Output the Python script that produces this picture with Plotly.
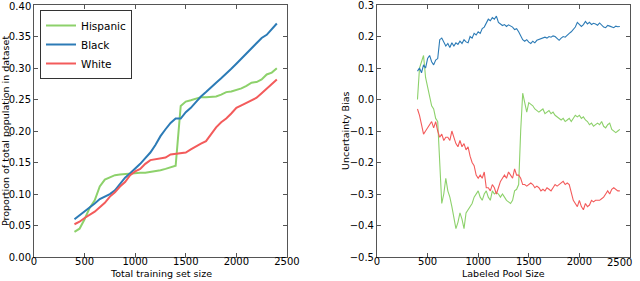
import plotly.graph_objects as go

# ---------------- Left panel data ----------------
left_x = list(range(400, 2401, 50))
left_hispanic = [0.040, 0.045, 0.060, 0.078, 0.090, 0.112, 0.123, 0.127, 0.130, 0.131,
                 0.132, 0.133, 0.133, 0.134, 0.134, 0.135, 0.137, 0.138, 0.140, 0.142,
                 0.145, 0.240, 0.247, 0.249, 0.251, 0.254, 0.254, 0.254, 0.255, 0.258,
                 0.262, 0.263, 0.265, 0.268, 0.272, 0.277, 0.278, 0.282, 0.290, 0.293,
                 0.300]
left_black = [0.060, 0.066, 0.072, 0.078, 0.085, 0.092, 0.096, 0.100, 0.106, 0.116,
              0.126, 0.133, 0.140, 0.148, 0.157, 0.166, 0.178, 0.192, 0.203, 0.213,
              0.220, 0.220, 0.230, 0.237, 0.246, 0.255, 0.262, 0.270, 0.277, 0.284,
              0.291, 0.299, 0.307, 0.315, 0.323, 0.331, 0.339, 0.348, 0.353, 0.362,
              0.371]
left_white = [0.052, 0.056, 0.062, 0.067, 0.072, 0.079, 0.086, 0.096, 0.103, 0.112,
              0.119, 0.130, 0.136, 0.140, 0.148, 0.154, 0.155, 0.156, 0.158, 0.163,
              0.164, 0.164, 0.166, 0.171, 0.176, 0.180, 0.184, 0.195, 0.206, 0.214,
              0.220, 0.228, 0.237, 0.241, 0.245, 0.249, 0.253, 0.260, 0.267, 0.275,
              0.282]

# ---------------- Right panel data ----------------
right_x = list(range(400, 2401, 20))
right_black = [0.09, 0.10, 0.085, 0.11, 0.10, 0.13, 0.14, 0.12, 0.11, 0.125,
               0.13, 0.19, 0.195, 0.18, 0.17, 0.178, 0.165, 0.18, 0.17, 0.18,
               0.175, 0.185, 0.178, 0.19, 0.183, 0.18, 0.20, 0.195, 0.21, 0.205,
               0.215, 0.21, 0.225, 0.23, 0.245, 0.255, 0.25, 0.26, 0.255, 0.265,
               0.245, 0.24, 0.235, 0.238, 0.232, 0.237, 0.233, 0.23, 0.222, 0.225,
               0.215, 0.20, 0.19, 0.185, 0.19, 0.182, 0.178, 0.185, 0.18, 0.188,
               0.19, 0.193, 0.195, 0.198, 0.195, 0.20, 0.198, 0.202, 0.20, 0.195,
               0.188, 0.195, 0.20, 0.198, 0.205, 0.21, 0.215, 0.222, 0.23, 0.245,
               0.24, 0.232, 0.238, 0.248, 0.24, 0.245, 0.238, 0.242, 0.24, 0.236,
               0.243, 0.235, 0.23, 0.228, 0.235, 0.233, 0.23, 0.228, 0.233, 0.231,
               0.232]
right_hispanic = [0.0, 0.10, 0.12, 0.14, 0.07, 0.04, 0.0, -0.02, -0.03, -0.06,
                  -0.07, -0.22, -0.33, -0.30, -0.25, -0.29, -0.31, -0.34, -0.37, -0.41,
                  -0.39, -0.36, -0.38, -0.41, -0.36, -0.35, -0.34, -0.33, -0.31, -0.30,
                  -0.29, -0.31, -0.32, -0.30, -0.29, -0.31, -0.32, -0.29, -0.30, -0.295,
                  -0.30, -0.31, -0.30, -0.31, -0.32, -0.325, -0.33, -0.32, -0.29, -0.285,
                  -0.27, -0.10, 0.02, -0.01, -0.04, -0.01, -0.015, -0.02, -0.03, -0.035,
                  -0.04, -0.035, -0.03, -0.045, -0.04, -0.035, -0.045, -0.04, -0.05, -0.055,
                  -0.06, -0.065, -0.06, -0.07, -0.065, -0.06, -0.07, -0.06, -0.05, -0.055,
                  -0.05, -0.06, -0.055, -0.065, -0.07, -0.08, -0.075, -0.085, -0.08, -0.075,
                  -0.08, -0.07, -0.085, -0.09, -0.08, -0.075, -0.095, -0.10, -0.105, -0.10,
                  -0.095]
right_white = [-0.03, -0.05, -0.08, -0.11, -0.10, -0.09, -0.08, -0.07, -0.09, -0.07,
               -0.10, -0.12, -0.11, -0.13, -0.12, -0.12, -0.13, -0.10, -0.12, -0.14,
               -0.15, -0.13, -0.15, -0.14, -0.16, -0.15, -0.18, -0.20, -0.21, -0.24,
               -0.25, -0.24, -0.25, -0.23, -0.28, -0.28, -0.29, -0.27, -0.28, -0.30,
               -0.28, -0.26, -0.25, -0.24, -0.25, -0.23, -0.24, -0.25, -0.22, -0.24,
               -0.24, -0.25, -0.27, -0.27, -0.275, -0.27, -0.265, -0.27, -0.28, -0.275,
               -0.28, -0.29, -0.285, -0.29, -0.28, -0.285, -0.29, -0.28, -0.27, -0.275,
               -0.27, -0.265, -0.26, -0.27, -0.265, -0.27, -0.30, -0.32, -0.33, -0.34,
               -0.32, -0.34, -0.35, -0.33, -0.34, -0.335, -0.32, -0.325, -0.32, -0.32,
               -0.32, -0.315, -0.31, -0.30, -0.29, -0.30, -0.285, -0.28, -0.285, -0.29,
               -0.29]

series_names = ["Hispanic", "Black", "White"]
colors = {"Hispanic": "#8dd16b", "Black": "#2c7bb6", "White": "#f35b5b"}

# tick values and labels (edge labels are drawn as text annotations so they are not clipped)
x_ticks = [0, 500, 1000, 1500, 2000, 2500]
x_labels_left = ["0", "500", "1000", "1500", "2000", "2500"]
x_labels_right = ["0", "500", "1000", "1500", "2000", ""]
left_y_ticks = [0.00, 0.05, 0.10, 0.15, 0.20, 0.25, 0.30, 0.35, 0.40]
left_y_labels = ["0.00", "0.05", "0.10", "0.15", "0.20", "0.25", "0.30", "0.35", "0.40"]
right_y_ticks = [-0.5, -0.4, -0.3, -0.2, -0.1, 0.0, 0.1, 0.2, 0.3]
right_y_labels = ["\u22120.5", "\u22120.4", "\u22120.3", "\u22120.2", "\u22120.1", "0.0", "0.1", "0.2", "0.3"]

fig = go.Figure()
for name, ys in zip(series_names, [left_hispanic, left_black, left_white]):
    fig.add_trace(go.Scatter(x=left_x, y=ys, mode="lines", name=name,
                             line=dict(color=colors[name], width=2),
                             xaxis="x", yaxis="y"))
for name, ys in zip(series_names, [right_hispanic, right_black, right_white]):
    fig.add_trace(go.Scatter(x=right_x, y=ys, mode="lines", name=name,
                             showlegend=False,
                             line=dict(color=colors[name], width=1.1),
                             xaxis="x2", yaxis="y2"))

font = dict(family="DejaVu Sans", size=10, color="#000")
title_font = dict(family="DejaVu Sans", size=9.5, color="#000")
axis_common = dict(showgrid=False, zeroline=False, showline=True, mirror="ticks",
                   linecolor="#555", linewidth=1, ticks="inside", ticklen=4,
                   tickcolor="#555", tickfont=font, automargin=False,
                   ticklabeloverflow="allow")

fig.update_layout(
    width=640, height=281,
    margin=dict(l=0, r=0, t=0, b=0, autoexpand=False),
    paper_bgcolor="white", plot_bgcolor="white",
    font=font,
    xaxis=dict(domain=[34/640, 287/640], range=[0, 2500.5], tickvals=x_ticks,
               ticktext=x_labels_left,
               ticklabelstandoff=-5, anchor="y", **axis_common),
    yaxis=dict(domain=[1-257/281, 1-5/281], range=[0, 0.4004],
               tickvals=left_y_ticks[:-1], ticktext=left_y_labels[:-1],
               anchor="x", **axis_common),
    xaxis2=dict(domain=[377/640, 630/640], range=[0, 2500.5], tickvals=x_ticks,
                ticktext=x_labels_right,
                ticklabelstandoff=-5, anchor="y2", **axis_common),
    yaxis2=dict(domain=[1-257/281, 1-5/281], range=[-0.5, 0.3001],
                tickvals=right_y_ticks, ticktext=right_y_labels,
                anchor="x2", **axis_common),
    legend=dict(x=40/640, y=1-10/281, xanchor="left", yanchor="top",
                bgcolor="white", bordercolor="#333", borderwidth=1,
                font=dict(family="DejaVu Sans", size=10.5, color="#000"),
                tracegroupgap=0, itemwidth=30),
    showlegend=True,
    annotations=[
        dict(text="Total training set size", xref="paper", yref="paper",
             x=160.5/640, y=1-273/281, xanchor="center", yanchor="middle",
             showarrow=False, font=title_font),
        dict(text="Labeled Pool Size", xref="paper", yref="paper",
             x=503.5/640, y=1-273/281, xanchor="center", yanchor="middle",
             showarrow=False, font=title_font),
        dict(text="Proportion of total population in dataset", xref="paper", yref="paper",
             x=6/640, y=1-131/281, xanchor="center", yanchor="middle", textangle=-90,
             showarrow=False, font=title_font),
        dict(text="Uncertainty Bias", xref="paper", yref="paper",
             x=346/640, y=1-131/281, xanchor="center", yanchor="middle", textangle=-90,
             showarrow=False, font=title_font),
        # edge tick labels
        dict(text=left_y_labels[-1], xref="paper", yref="paper",
             x=31.5/640, y=1-6/281, xanchor="right", yanchor="middle",
             showarrow=False, font=font, borderpad=0, bgcolor="white"),
        dict(text=x_labels_left[-1], xref="x2", yref="paper",
             x=x_ticks[-1], xshift=-10, y=1-262/281, xanchor="center", yanchor="middle",
             showarrow=False, font=font, borderpad=0),
    ],
)

# Remove the browser's default 8px page margin so the 640x281 figure fills the window.
fig.write_html("out.html",
               config={"displayModeBar": False},
               post_script="document.body.style.margin='0px';document.body.style.overflow='hidden';")
